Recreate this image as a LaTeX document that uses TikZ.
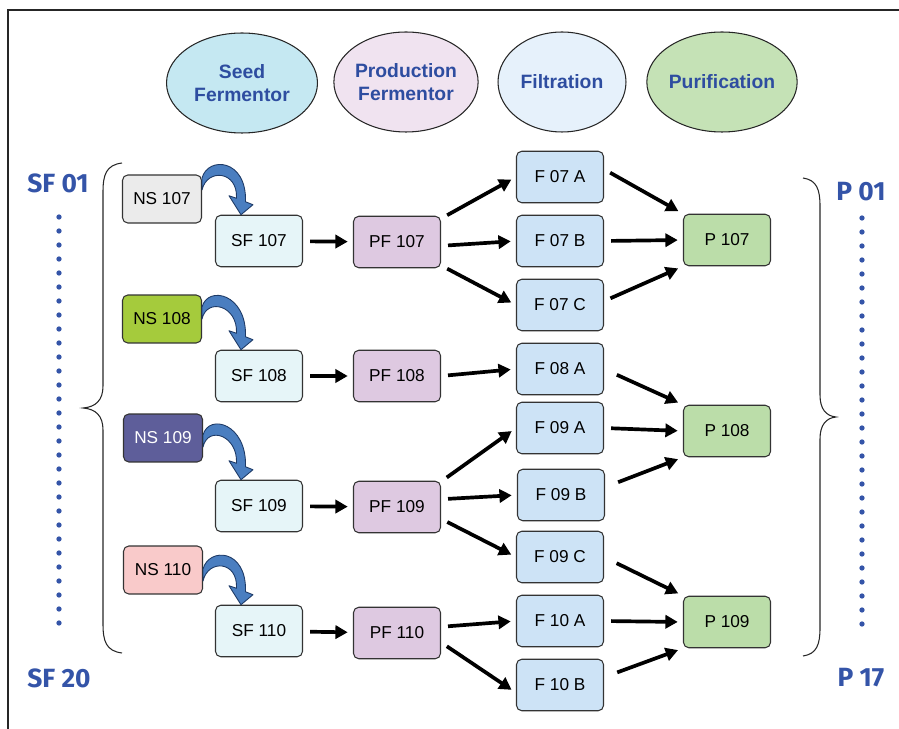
\documentclass[tikz,border=0pt]{standalone}
\usepackage{fontspec}
\setmainfont{Liberation Sans}
\newfontfamily\sidefont{Fira Sans}
\usetikzlibrary{positioning,arrows.meta,shapes.geometric,calc}
\definecolor{headblue}{HTML}{2E4DA0}
\definecolor{sideblue}{HTML}{3454A8}
\definecolor{seedfill}{HTML}{C5E8F2}
\definecolor{prodfill}{HTML}{F0E3F0}
\definecolor{filtfill}{HTML}{E6F1FB}
\definecolor{purfill}{HTML}{C5E2B6}
\definecolor{sffill}{HTML}{E6F5F8}
\definecolor{pffill}{HTML}{DEC9E1}
\definecolor{ffill}{HTML}{CDE3F6}
\definecolor{pfill}{HTML}{BBDDA9}
\definecolor{curvefill}{HTML}{4A7EC0}

\begin{document}
\begin{tikzpicture}[x=0.02cm,y=-0.02cm,>={Triangle[length=7pt,width=7.5pt]},
  box/.style={draw=black!80,rounded corners=3pt,minimum width=1.74cm,minimum height=1.03cm,line width=0.6pt,font=\fontsize{9.8}{11}\selectfont},
  nsbox/.style={box,minimum width=1.58cm,minimum height=0.96cm},
  stage/.style={ellipse,draw=black!85,line width=0.6pt,minimum width=2.56cm,minimum height=2cm,inner sep=0pt,align=center,text=headblue,font=\bfseries\fontsize{11}{13.5}\selectfont},
  flow/.style={->,line width=2.1pt,shorten <=4pt,shorten >=3pt},
  side/.style={text=sideblue,font=\sidefont\bfseries\fontsize{15}{17}\selectfont}]
\useasboundingbox (0,0) rectangle (899,729);
\draw[black!85,line width=0.9pt] (899,10) -- (8,10) -- (8,729);

% stage headers
\node[stage,fill=seedfill,minimum width=3.02cm] (seed) at (242,83) {Seed\\Fermentor};
\node[stage,fill=prodfill] (prod) at (406,82) {Production\\Fermentor};
\node[stage,fill=filtfill] (filt) at (562,82) {Filtration};
\node[stage,fill=purfill] (puri) at (722,82) {Purification};

% seed stock and fermentors
\node[nsbox,fill=black!8] (ns107) at (162,199) {NS 107};
\node[nsbox,fill={rgb,255:red,165;green,203;blue,60}] (ns108) at (162,319) {NS 108};
\node[nsbox,fill={rgb,255:red,94;green,94;blue,154},text=white] (ns109) at (163,438) {NS 109};
\node[nsbox,fill={rgb,255:red,249;green,202;blue,202}] (ns110) at (163,570) {NS 110};
\node[box,fill=sffill] (sf107) at (259,241) {SF 107};
\node[box,fill=sffill] (sf108) at (259,376) {SF 108};
\node[box,fill=sffill] (sf109) at (259,506) {SF 109};
\node[box,fill=sffill] (sf110) at (259,631) {SF 110};
\node[box,fill=pffill] (pf107) at (397,242) {PF 107};
\node[box,fill=pffill] (pf108) at (397,376) {PF 108};
\node[box,fill=pffill] (pf109) at (397,507) {PF 109};
\node[box,fill=pffill] (pf110) at (397,633) {PF 110};

% filtration
\node[box,fill=ffill] (f07a) at (560,177) {F 07 A};
\node[box,fill=ffill] (f07b) at (560,241) {F 07 B};
\node[box,fill=ffill] (f07c) at (560,305) {F 07 C};
\node[box,fill=ffill] (f08a) at (560,369) {F 08 A};
\node[box,fill=ffill] (f09a) at (560,428) {F 09 A};
\node[box,fill=ffill] (f09b) at (561,495) {F 09 B};
\node[box,fill=ffill] (f09c) at (560,557) {F 09 C};
\node[box,fill=ffill] (f10a) at (560,621) {F 10 A};
\node[box,fill=ffill] (f10b) at (560,685) {F 10 B};

% purification
\node[box,fill=pfill] (p107) at (727,240) {P 107};
\node[box,fill=pfill] (p108) at (727,431) {P 108};
\node[box,fill=pfill] (p109) at (727,622) {P 109};

% curved transfer arrows
\foreach \ns/\sf/\dy in {ns107/sf107/-15,ns108/sf108/-6,ns109/sf109/3,ns110/sf110/5}{
  \coordinate (s) at ($(\ns.east)+(0,\dy)$);
  \coordinate (t) at ($(\sf.north west)+(26,0)$);
  \filldraw[fill=curvefill,draw={rgb,255:red,30;green,58;blue,102},line width=0.5pt,line join=round]
    ($(s)+(0,-6)$) .. controls ($(s)+(6,-28)$) and ($(t)+(6,-56)$) .. ($(t)+(4.5,-13)$)
    -- ($(t)+(12,-10)$) -- (t) -- ($(t)+(-12,-19)$) -- ($(t)+(-4.5,-16.5)$)
    .. controls ($(t)+(-3,-44)$) and ($(s)+(5,-16)$) .. ($(s)+(0,6)$) -- cycle;
}

% flows
\draw[flow] (sf107) -- (pf107);
\draw[flow] (sf108) -- (pf108);
\draw[flow] (sf109) -- (pf109);
\draw[flow] (sf110) -- (pf110);
\draw[flow] (pf107.28) -- (f07a.west);
\draw[flow] (pf107.-5) -- (f07b.west);
\draw[flow] (pf107.-28) -- (f07c.west);
\draw[flow] (pf108.east) -- (f08a.west);
\draw[flow] (pf109.30) -- (f09a.west);
\draw[flow] (pf109.10) -- (f09b.west);
\draw[flow] (pf109.-15) -- (f09c.west);
\draw[flow] (pf110.8) -- (f10a.west);
\draw[flow] (pf110.-12) -- (f10b.190);
\draw[flow] (f07a.10) -- (p107.north west);
\draw[flow] (f07b.east) -- (p107.west);
\draw[flow] (f07c.5) -- (p107.south west);
\draw[flow,shorten <=8pt] (f08a.east) -- (p108.north west);
\draw[flow] (f09a.east) -- (p108.west);
\draw[flow,shorten <=8pt] (f09b.10) -- (p108.south west);
\draw[flow,shorten <=8pt] (f09c.east) -- (p109.north west);
\draw[flow] (f10a.east) -- (p109.west);
\draw[flow,shorten <=8pt] (f10b.10) -- (p109.south west);

% ranges
\node[side] (sf01) at (58,183) {SF 01};
\node[side] (sf20) at (59,678) {SF 20};
\node[side] (p01) at (861,192) {P 01};
\node[side] (p17) at (861,678) {P 17};
\foreach \k in {0,...,29}{
  \fill[sideblue] (59,217+14*\k) circle (1.5pt);
  \fill[sideblue] (862,218+14*\k) circle (1.5pt);
}
\draw[black!85,line width=0.6pt] (122,163) .. controls (106,165) and (103,175) .. (103,192) -- (103,386)
  .. controls (103,400) and (96,407) .. (83,408) .. controls (96,409) and (103,416) .. (103,430)
  -- (103,624) .. controls (103,641) and (106,651) .. (122,653);
\draw[black!85,line width=0.6pt] (803,178) .. controls (817,180) and (820,190) .. (820,206) -- (820,395)
  .. controls (820,409) and (826,416) .. (836,417) .. controls (826,418) and (820,425) .. (820,439)
  -- (820,628) .. controls (820,644) and (817,654) .. (803,656);
\end{tikzpicture}
\end{document}
